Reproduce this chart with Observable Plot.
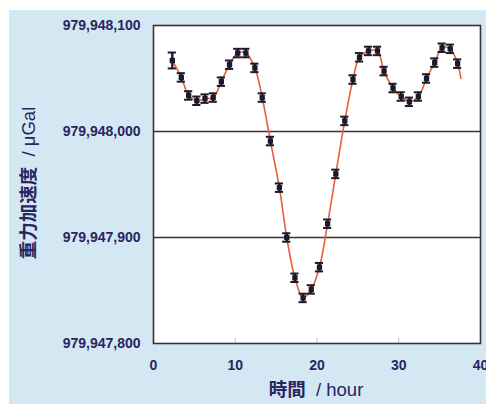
<!DOCTYPE html>
<html>
<head>
<meta charset="utf-8">
<script src="https://cdn.jsdelivr.net/npm/d3@7"></script>
<script src="https://cdn.jsdelivr.net/npm/@observablehq/plot@0.6"></script>
<style>
  html, body { margin: 0; padding: 0; background: #ffffff; }
  #wrap { position: relative; width: 486px; height: 406px; overflow: hidden; }
  #panel { position: absolute; left: 9px; top: 10px; width: 477px; height: 394px; background: #d3e8f2; }
  #chart { position: absolute; left: 0; top: 0; }
</style>
</head>
<body>
<div id="wrap"><div id="panel"></div><div id="chart"></div></div>
<script>
const hours = [2.3, 3.4, 4.3, 5.3, 6.3, 7.3, 8.3, 9.3, 10.3, 11.3, 12.4, 13.3, 14.3, 15.4, 16.3, 17.3, 18.3, 19.3,
               20.3, 21.3, 22.3, 23.4, 24.4, 25.2, 26.3, 27.4, 28.2, 29.3, 30.3, 31.3, 32.4, 33.4, 34.4, 35.3, 36.3, 37.2];
const gravity = [979948067, 979948051, 979948034, 979948029, 979948031, 979948032, 979948047, 979948063, 979948074,
                 979948074, 979948060, 979948032, 979947991, 979947947, 979947900, 979947862, 979947843, 979947851,
                 979947872, 979947913, 979947960, 979948010, 979948049, 979948070, 979948076, 979948076, 979948057,
                 979948041, 979948033, 979948028, 979948033, 979948050, 979948065, 979948079, 979948078, 979948064];
const errors = [7.5, 4, 4, 4, 4, 4, 4, 4, 4, 4, 4, 4, 4, 4, 4, 4, 4, 4,
                4, 4, 4, 4, 4, 4, 4, 4, 4, 4, 4, 4, 4, 4, 4, 4, 4, 4];
// model curve: through the measured points plus its short tail after the last one
const tailHour = [37.6];
const tailGravity = [979948050];
const gridValues = [979948000, 979947900];
const xTicks = [0, 10, 20, 30, 40];
const yTicks = [979947800, 979947900, 979948000, 979948100];
const innerTicks = [10, 20, 30];

const points = hours.map((h, i) => ({h, g: gravity[i], e: errors[i]}));
const curve = points.map(d => ({h: d.h, g: d.g})).concat(tailHour.map((h, i) => ({h, g: tailGravity[i]})));

const ink = "#2a2462";
const marker = "#1c1a2a";
const capHalf = 0.5;

const chart = Plot.plot({
  width: 486,
  height: 406,
  marginLeft: 153,
  marginRight: 6,
  marginTop: 25,
  marginBottom: 63,
  style: {fontFamily: "'Liberation Sans', Arial, sans-serif", fontSize: "14px", fontWeight: "bold", color: ink, background: "transparent"},
  x: {domain: [0, 40]},
  y: {domain: [979947800, 979948100]},
  marks: [
    Plot.frame({fill: "white", stroke: "none"}),
    Plot.ruleX(innerTicks, {y1: 979947800, y2: 979947805, stroke: "#c4c4c8", strokeWidth: 1}),
    Plot.ruleY(gridValues, {stroke: "#3d2f38", strokeWidth: 1.3}),
    Plot.line(curve, {x: "h", y: "g", curve: "catmull-rom", stroke: "#e4603e", strokeWidth: 1.6}),
    Plot.ruleX(points, {x: "h", y1: d => d.g - d.e, y2: d => d.g + d.e, stroke: marker, strokeWidth: 2.4}),
    Plot.ruleY(points, {y: d => d.g - d.e, x1: d => d.h - capHalf, x2: d => d.h + capHalf, stroke: marker, strokeWidth: 2}),
    Plot.ruleY(points, {y: d => d.g + d.e, x1: d => d.h - capHalf, x2: d => d.h + capHalf, stroke: marker, strokeWidth: 2}),
    Plot.dot(points, {x: "h", y: "g", symbol: "square", r: 3, fill: marker, stroke: "none"}),
    Plot.frame({stroke: "#353238", strokeWidth: 1.6, fill: "none"}),
    Plot.axisY({ticks: yTicks, tickSize: 0, tickPadding: 13, tickFormat: d3.format(","), label: null, style: {letterSpacing: "0.9px", fontSize: "14.5px"}}),
    Plot.axisX({ticks: xTicks, tickSize: 0, tickPadding: 17, tickFormat: d => String(d), label: null, style: {fontSize: "14.5px"}})
  ]
});

document.getElementById("chart").appendChild(chart);

const svg = d3.select(chart);
const cjk = "'Noto Sans CJK JP', 'Liberation Sans', sans-serif";
// x-axis title
const xt = svg.append("text")
  .attr("x", 316).attr("y", 396)
  .attr("text-anchor", "middle")
  .attr("fill", ink)
  .style("font-family", cjk)
  .style("font-size", "18.5px");
xt.append("tspan").style("font-weight", "bold").text("時間");
xt.append("tspan").style("font-weight", "500").attr("font-family", "'Liberation Sans', Arial, sans-serif").text("  / hour");
// y-axis title
const yt = svg.append("text")
  .attr("transform", "translate(35,183) rotate(-90)")
  .attr("text-anchor", "middle")
  .attr("fill", ink)
  .style("font-family", cjk)
  .style("font-size", "18.5px");
yt.append("tspan").style("font-weight", "bold").text("重力加速度");
yt.append("tspan").style("font-weight", "500").attr("font-family", "'Liberation Sans', Arial, sans-serif").text("  / μGal");
</script>
</body>
</html>
